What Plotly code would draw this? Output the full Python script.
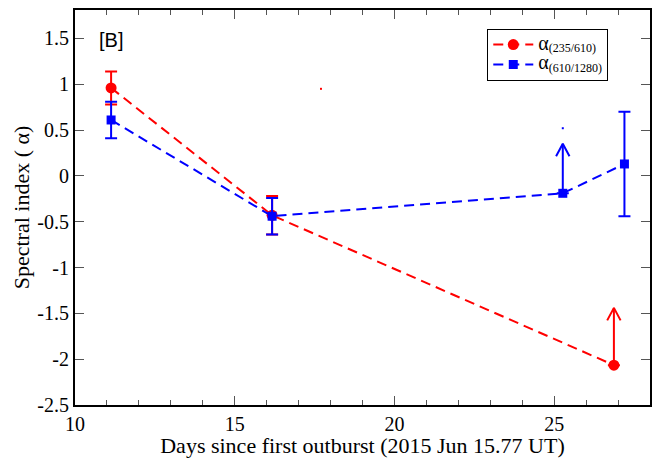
import numpy as np
import plotly.graph_objects as go

# ---- data ----
days_red = [11.13, 16.17, 26.87]
alpha_red = [0.96, -0.43, -2.065]
err_red = [0.18, 0.21, np.nan]
red_limit_idx = [2]
red_limit_tip = [-1.44]

days_blue = [11.13, 16.17, 25.27, 27.2]
alpha_blue = [0.61, -0.44, -0.19, 0.13]
err_blue = [0.20, 0.20, np.nan, 0.57]
blue_limit_idx = [2]
blue_limit_tip = [0.35]

stray_red = ([17.7], [0.95])
stray_blue = ([25.27], [0.52])

RED = "#ff0000"
BLUE = "#0000ff"
x_range = [10, 28]
y_range = [-2.5, 1.81]

W, H = 661, 458
ML, MR, MT, MB = 75, 11, 8, 49
px_x = (W - ML - MR) / (x_range[1] - x_range[0])
px_y = (H - MT - MB) / (y_range[1] - y_range[0])

fig = go.Figure()

def add_series(days, vals, errs, color, symbol, size, name):
    fig.add_trace(go.Scatter(
        x=days, y=vals, mode="lines+markers", name=name,
        line=dict(color=color, width=2, dash="10px,6px"),
        marker=dict(color=color, symbol=symbol, size=size),
        error_y=dict(type="data", array=errs, visible=True, color=color,
                     thickness=2, width=6),
    ))

def add_limits(days, vals, idx, tips, color):
    xs, ys = [], []
    hw, hh = 6.7 / px_x, 12.7 / px_y
    for i, t in zip(idx, tips):
        x0, y0 = days[i], vals[i]
        xs += [x0, x0, None, x0 - hw, x0, x0 + hw, None]
        ys += [y0, t, None, t - hh, t, t - hh, None]
    fig.add_trace(go.Scatter(x=xs, y=ys, mode="lines", showlegend=False,
                             line=dict(color=color, width=2), hoverinfo="skip"))

def legend_label(sub):
    return ("<span style='font-size:20px'>α</span>"
            f"<sub><span style='font-size:12px'>{sub}</span></sub>")

add_series(days_red, alpha_red, err_red, RED, "circle", 11, legend_label("(235/610)"))
add_series(days_blue, alpha_blue, err_blue, BLUE, "square", 9, legend_label("(610/1280)"))
add_limits(days_red, alpha_red, red_limit_idx, red_limit_tip, RED)
add_limits(days_blue, alpha_blue, blue_limit_idx, blue_limit_tip, BLUE)

fig.add_trace(go.Scatter(x=stray_red[0], y=stray_red[1], mode="markers", showlegend=False,
                         marker=dict(color=RED, size=2, symbol="square"), hoverinfo="skip"))
fig.add_trace(go.Scatter(x=stray_blue[0], y=stray_blue[1], mode="markers", showlegend=False,
                         marker=dict(color=BLUE, size=2, symbol="square"), hoverinfo="skip"))

serif = "Liberation Serif, Times New Roman, serif"
axis_common = dict(
    showline=True, linecolor="black", linewidth=2, mirror="ticks",
    ticks="inside", tickcolor="#555", tickwidth=1, ticklen=9,
    showgrid=False, zeroline=False,
    tickfont=dict(family=serif, size=20, color="black"),
)

fig.update_xaxes(range=x_range, dtick=5, tick0=10,
                 minor=dict(dtick=1, ticks="inside", ticklen=5, tickcolor="#555", tickwidth=1),
                 title=dict(text="Days since first outburst (2015 Jun 15.77 UT)",
                            font=dict(family=serif, size=22, color="black"), standoff=0),
                 **axis_common)
fig.update_yaxes(range=y_range,
                 tickvals=[1.5, 1, 0.5, 0, -0.5, -1, -1.5, -2, -2.5],
                 ticktext=["1.5", "1", "0.5", "0", "-0.5", "-1", "-1.5", "-2", "-2.5"],
                 title=dict(text="Spectral index ( α)",
                            font=dict(family=serif, size=22, color="black"), standoff=2),
                 **axis_common)

fig.add_annotation(text="[B]", x=0.038, y=0.925, xref="paper", yref="paper",
                   xanchor="left", yanchor="middle", showarrow=False,
                   font=dict(family="Liberation Sans, Arial, sans-serif", size=20, color="black"))

fig.update_layout(
    width=W, height=H,
    margin=dict(l=ML, r=MR, t=MT, b=MB),
    paper_bgcolor="white", plot_bgcolor="white",
    showlegend=True,
    legend=dict(x=0.717, y=0.953, xanchor="left", yanchor="top",
                bordercolor="black", borderwidth=1, bgcolor="white",
                font=dict(family=serif, size=13, color="black"),
                itemwidth=40, tracegroupgap=0),
)

fig.write_html("out.html")
